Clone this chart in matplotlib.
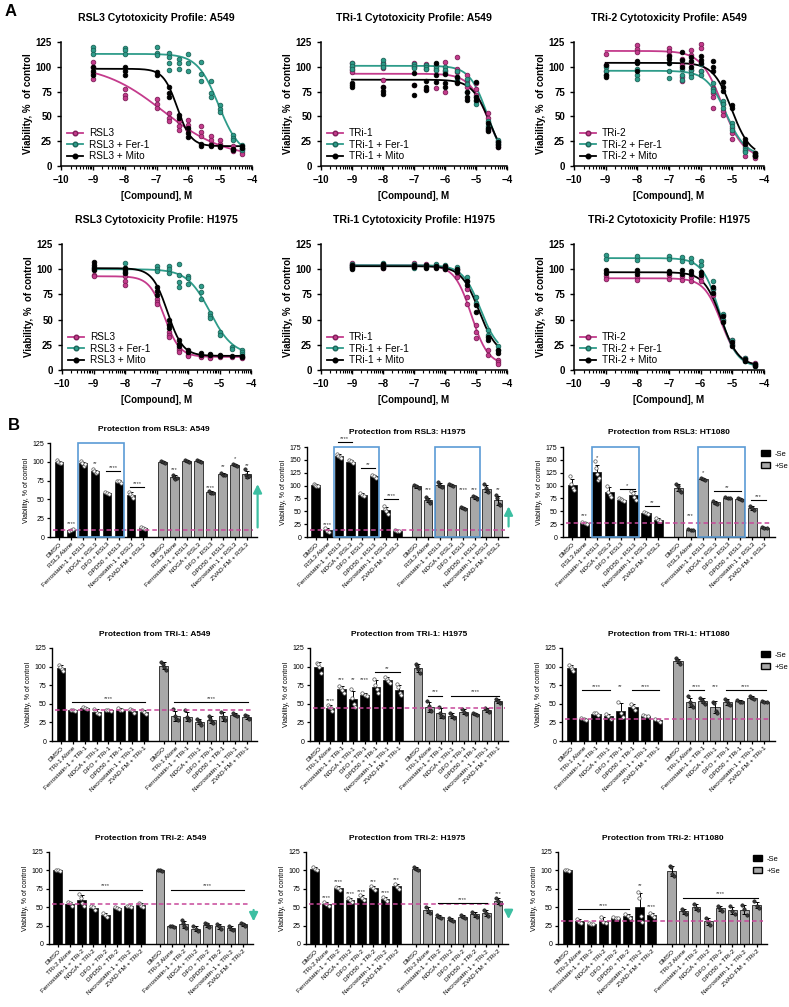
import numpy as np
import matplotlib
matplotlib.use('Agg')
import matplotlib.pyplot as plt
from matplotlib.lines import Line2D
from matplotlib.patches import Rectangle, Patch

plt.rcParams['font.family'] = ['Liberation Sans', 'DejaVu Sans']

W, H = 789, 1007
pink = '#C43B8C'
teal = '#2E9C8A'
pink_edge = '#7E1E58'
teal_edge = '#1B6458'
box_blue = '#5B9BD5'
arrow_teal = '#3DBFA2'
bar_gray = '#A8A8A8'

# ---------------- dose response data (log M) ----------------
conc = [-9, -8, -7, -6.6, -6.3, -6, -5.6, -5.3, -5, -4.6, -4.3]

rsl3_a549 = [[105, 100, 94, 88], [78, 72, 69], [68, 63, 58], [53, 48, 45], [45, 40, 36], [46, 41, 36],
             [40, 34, 30], [30, 26, 22], [26, 22, 20], [20, 17, 15], [17, 14, 12]]
rsl3_a549_fer = [[120, 117, 113], [119, 117, 113], [120, 114, 112], [114, 110, 104, 97], [108, 104, 98],
                 [113, 104, 96], [105, 93, 86], [86, 74, 70], [61, 57, 54], [31, 28, 26], [21, 18, 16]]
rsl3_a549_mito = [[100, 96, 92], [100, 96, 92], [95, 92], [80, 74, 70], [51, 48], [38, 33, 29],
                  [22, 20], [21, 20], [20, 19], [17, 16], [20, 18]]

tri1_a549 = [[104, 100, 97, 95], [104, 99, 87, 80], [104, 100, 82], [103, 98, 78], [102, 97, 79], [105, 96, 75],
             [110, 98, 95], [92, 86, 80], [84, 78, 72], [53, 48, 36], [25, 22, 19]]
tri1_a549_fer = [[104, 101, 98], [107, 103, 100], [103, 101, 99], [102, 100, 98], [101, 99, 97], [100, 97, 94],
                 [96, 90, 87], [88, 83, 75], [70, 66, 63], [45, 40, 37], [26, 24, 22]]
tri1_a549_mito = [[84, 82, 80], [80, 76, 73], [94, 82, 72], [86, 80, 77], [104, 92, 85], [93, 84, 80],
                  [90, 85, 84], [75, 70, 67], [85, 70, 67], [43, 38, 35], [24, 21, 19]]

tri2_a549 = [[113, 102, 96], [122, 118, 115], [119, 116, 112], [108, 102, 90, 86], [117, 112, 104, 97],
             [123, 119, 96], [79, 74, 70, 58], [62, 55, 51], [38, 33, 27], [20, 15, 10], [13, 10, 8]]
tri2_a549_fer = [[100, 96, 92], [98, 92, 88], [104, 96, 89], [98, 92, 87], [97, 93, 90], [103, 96, 92],
                 [84, 78, 76], [66, 62, 58], [43, 40, 36], [18, 16, 14], [13, 11, 10]]
tri2_a549_mito = [[102, 92, 90], [106, 104, 96], [111, 108, 104], [115, 107, 100], [110, 106, 100],
                  [111, 107, 104], [106, 100, 96], [85, 80, 76], [61, 58], [27, 24, 22], [13, 11, 10]]

rsl3_h1975 = [[94, 93], [93, 88, 84], [70, 67, 65], [38, 35, 33], [22, 20, 18], [15, 14], [14, 13],
              [13, 12], [13], [13], [13, 12]]
rsl3_h1975_fer = [[102, 100], [106, 101, 97], [103, 100, 98], [103, 100, 96], [105, 94, 87, 82], [93, 91, 85],
                  [83, 77, 70], [57, 54, 52], [38, 35], [23, 21], [20, 18, 16]]
rsl3_h1975_mito = [[107, 104, 101, 99], [101, 99, 96], [82, 78, 74], [50, 45, 42], [30, 26, 24], [20, 18],
                   [17, 15], [16, 15], [15, 14], [14], [14, 13]]

tri1_h1975 = [[106, 104, 102], [105, 103, 101], [106, 104, 102], [105, 103], [104, 102], [103, 100],
              [100, 96, 92], [80, 72, 65], [45, 38, 32], [20, 15], [10, 8, 6]]
tri1_h1975_fer = [[105, 103, 101], [106, 104, 102], [105, 103, 101], [104, 102], [105, 103], [104, 101],
                  [102, 99], [92, 88], [72, 66], [40, 35], [24, 20]]
tri1_h1975_mito = [[104, 102, 100], [105, 103, 101], [104, 102], [104, 101], [103, 101], [103, 100],
                   [100, 97], [88, 84], [64, 58], [33, 30], [20, 17]]

tri2_h1975 = [[93, 90], [92, 89], [94, 90], [93, 89], [92, 88], [92, 88], [80, 74], [55, 50], [30, 26],
              [12, 10], [7, 5]]
tri2_h1975_fer = [[114, 110], [113, 109], [113, 110], [112, 108], [111, 107], [108, 104], [88, 80],
                  [56, 50], [30, 25], [12, 9], [6, 4]]
tri2_h1975_mito = [[99, 96], [99, 95], [98, 96], [99, 95], [98, 95], [97, 94], [82, 76], [54, 48],
                   [28, 24], [11, 9], [6, 4]]

# four-parameter fits: (top, bottom, logEC50, hill slope)
fit_rsl3_a549 = [(103, 8, -6.8, 0.45), (113, 10, -5.05, 1.3), (98, 20, -6.35, 2.0)]
fit_tri1_a549 = [(93, 0, -4.6, 1.4), (101, 0, -4.62, 1.5), (87, 0, -4.55, 1.5)]
fit_tri2_a549 = [(116, 8, -5.32, 1.3), (96, 10, -5.2, 1.4), (104, 10, -5.02, 1.5)]
fit_rsl3_h1975 = [(93, 13, -6.75, 1.8), (100, 15, -5.3, 1.2), (101, 14, -6.65, 1.8)]
fit_tri1_h1975 = [(104, 5, -5.15, 1.6), (104, 16, -4.85, 1.5), (103, 14, -4.9, 1.5)]
fit_tri2_h1975 = [(91, 4, -5.35, 1.6), (111, 3, -5.4, 1.6), (97, 4, -5.35, 1.6)]

# ---------------- bar chart data ----------------
treatments = ['DMSO', '{} Alone', 'Ferrostatin-1 + {}', 'NDGA + {}', 'DFO + {}', 'DPD50 + {}',
              'Necrostatin-1 + {}', 'ZVAD-FM + {}']

rsl3_a549_m = [[102, 100, 98, 99], [8, 9, 10], [101, 98, 95, 97], [90, 88, 85, 87], [60, 58, 57],
               [75, 74, 72], [60, 57, 54, 52], [13, 12, 10]]
rsl3_a549_p = [[101, 100, 99], [83, 80, 77, 78], [103, 101, 100], [103, 101, 100], [61, 59, 58],
               [85, 83, 82], [97, 96, 95], [90, 82, 80, 81]]
rsl3_h1975_m = [[104, 102, 100, 99], [17, 12, 9], [162, 158, 155, 153], [150, 147, 143], [85, 82, 80],
                [120, 118, 115], [60, 54, 50, 45], [14, 12, 11]]
rsl3_h1975_p = [[102, 99, 96], [78, 73, 70, 67], [106, 102, 100, 98], [103, 101, 99], [59, 57, 55],
                [80, 77, 74], [103, 95, 90, 88], [82, 75, 65, 62]]
rsl3_ht1080_m = [[118, 103, 95, 92], [30, 28, 26], [147, 135, 122, 110, 115], [100, 88, 82, 78],
                 [75, 73, 71, 70], [90, 86, 78, 72], [48, 46, 44], [36, 34, 32]]
rsl3_ht1080_p = [[104, 100, 92, 88], [15, 14, 13], [115, 113, 111], [70, 67, 65], [78, 76, 75],
                 [76, 74, 72], [60, 56, 52], [20, 18, 17]]

tri1_a549_m = [[102, 100, 97, 94], [42, 41, 40], [46, 45, 43], [43, 38, 36], [42, 41, 40], [44, 42, 41],
               [43, 41, 38], [42, 39, 36]]
tri1_a549_p = [[106, 104, 100, 95], [43, 33, 30, 28], [42, 32, 29, 28], [30, 27, 24, 22], [34, 30, 26, 24],
               [39, 32, 28], [37, 35, 33], [35, 33, 30]]
tri1_h1975_m = [[105, 103, 100, 92], [48, 46, 45, 40], [74, 71, 68, 65], [70, 58, 50, 46], [65, 62, 60],
                [84, 75, 70, 64], [86, 84, 80, 78], [76, 72, 65, 62]]
tri1_h1975_p = [[104, 101, 97, 91], [54, 47, 42, 40], [46, 38, 34, 32], [38, 33, 31], [43, 39, 36],
                [37, 36, 35], [45, 42, 39], [57, 54, 51]]
tri1_ht1080_m = [[102, 100, 97, 94], [31, 29, 28], [38, 37, 35], [36, 33, 30], [52, 38, 32], [50, 46, 42],
                 [35, 34, 33], [30, 28, 26]]
tri1_ht1080_p = [[111, 109, 106, 104], [60, 52, 49, 46], [58, 55, 53, 50], [53, 51, 40, 38],
                 [57, 54, 50, 48], [55, 53, 52], [60, 58, 57], [54, 53, 52]]

tri2_a549_m = [[101, 100, 99], [57, 56, 52], [68, 62, 56, 52], [51, 50, 46], [42, 39, 37], [50, 49, 48],
               [52, 51, 50], [56, 55, 51, 50]]
tri2_a549_p = [[101, 100, 99], [25, 24, 23], [33, 28, 24, 22], [24, 21, 18], [29, 27, 25, 23],
               [27, 24, 21], [25, 21, 19], [29, 27, 25]]
tri2_h1975_m = [[104, 102, 100], [57, 55, 52], [78, 76, 73], [62, 60, 57], [66, 63, 60], [79, 76, 73],
                [64, 61, 58], [82, 78, 75]]
tri2_h1975_p = [[104, 102, 100], [50, 45, 42], [40, 37, 35], [35, 33, 31], [39, 37, 35], [44, 40, 37],
                [46, 42, 38], [62, 58, 55]]
tri2_ht1080_m = [[101, 100, 99], [34, 30, 28], [28, 27, 27], [37, 30, 28], [37, 36, 35], [41, 38, 35],
                 [70, 62, 38, 30], [42, 40, 37]]
tri2_ht1080_p = [[106, 104, 95, 92], [48, 44, 41], [54, 49, 46], [36, 30, 26], [52, 48, 45], [51, 45, 41],
                 [53, 47, 40], [58, 52, 49]]

# significance marks: (first bar, last bar, height, stars)
sig_rsl3_a549 = [(1, 1, 15, '****'), (3, 3, 94, '**'), (4, 5, 88, '****'), (6, 7, 66, '****'),
                 (9, 9, 87, '***'), (12, 12, 63, '****'), (13, 13, 90, '**'), (14, 14, 101, '*'),
                 (15, 15, 92, '**')]
sig_rsl3_h1975 = [(1, 1, 20, '****'), (2, 3, 184, '****'), (4, 5, 134, '**'), (6, 7, 73, '****'),
                  (9, 9, 88, '***'), (12, 12, 88, '****'), (13, 13, 88, '***'), (15, 15, 88, '**')]
sig_rsl3_ht1080 = [(1, 1, 36, '***'), (2, 2, 150, '*'), (4, 5, 93, '*'), (6, 7, 60, '**'),
                   (9, 9, 36, '***'), (10, 10, 120, '*'), (11, 13, 90, '**'), (14, 15, 72, '***')]
sig_tri1_a549 = [(1, 7, 52, '****'), (9, 15, 52, '****')]
sig_tri1_h1975 = [(1, 1, 51, '****'), (2, 2, 79, '***'), (3, 3, 79, '**'), (4, 4, 79, '****'),
                  (5, 7, 93, '**'), (9, 10, 61, '***'), (11, 15, 61, '****')]
sig_tri1_ht1080 = [(1, 3, 68, '****'), (4, 4, 70, '**'), (5, 7, 68, '****'), (9, 10, 68, '****'),
                   (11, 11, 70, '***'), (12, 15, 68, '****')]
sig_tri2_a549 = [(1, 7, 74, '****'), (9, 15, 74, '****')]
sig_tri2_h1975 = [(1, 1, 60, '****'), (2, 2, 81, '****'), (3, 3, 65, '****'), (4, 4, 68, '****'),
                  (5, 5, 81, '***'), (6, 6, 66, '****'), (7, 7, 84, '***'), (10, 14, 56, '****'),
                  (15, 15, 65, '***')]
sig_tri2_ht1080 = [(1, 5, 47, '****'), (6, 6, 76, '**'), (7, 7, 47, '****'), (9, 15, 63, '****')]

# protection arrows: (start, end)
arrow_rsl3_a549 = (9, 74)
arrow_rsl3_h1975 = (15, 65)
arrow_tri2_a549 = (50, 27)
arrow_tri2_h1975 = (50, 30)


def add_ax(fig, l, t, r, b):
    return fig.add_axes([l / W, 1 - b / H, (r - l) / W, (b - t) / H])


def hill(x, top, bottom, logec, slope):
    return bottom + (top - bottom) / (1 + 10 ** ((x - logec) * slope))


def dose_panel(ax, title, drug, series, fits):
    cols = [pink, teal, 'black']
    edges = [pink_edge, teal_edge, 'black']
    names = [drug, drug + ' + Fer-1', drug + ' + Mito']
    xs = np.linspace(-9, -4.3, 200)
    for pts, fit, c, e in zip(series, fits, cols, edges):
        ax.plot(xs, hill(xs, *fit), color=c, lw=1.3, zorder=2)
        for x, vals in zip(conc, pts):
            ax.scatter([x] * len(vals), vals, s=11, color=c, edgecolors=e, linewidths=0.6, zorder=3)
    ax.set_xlim(-10, -4)
    ax.set_ylim(0, 125)
    ax.set_xticks(range(-10, -3))
    ax.set_xticks([d + np.log10(k) for d in range(-10, -4) for k in range(2, 10)], minor=True)
    ax.set_yticks(range(0, 126, 25))
    ax.tick_params(labelsize=7, width=1, length=3)
    ax.tick_params(which='minor', length=1.8, width=0.8)
    for lab in ax.get_xticklabels() + ax.get_yticklabels():
        lab.set_fontweight('bold')
    for s in ['top', 'right']:
        ax.spines[s].set_visible(False)
    for s in ['left', 'bottom']:
        ax.spines[s].set_linewidth(1.1)
    ax.set_title(title, fontsize=7.6, fontweight='bold', pad=15)
    ax.set_xlabel('[Compound], M', fontsize=7, fontweight='bold', labelpad=4)
    ax.set_ylabel('Viability, %  of control', fontsize=7, fontweight='bold', labelpad=2)
    handles = [Line2D([0], [0], color=c, lw=1.3, marker='o', markersize=3.3, markeredgecolor=e)
               for c, e in zip(cols, edges)]
    ax.legend(handles, names, loc='lower left', bbox_to_anchor=(0.0, -0.01), frameon=False,
              fontsize=7.2, handlelength=1.6, handletextpad=0.6, labelspacing=0.15, borderaxespad=0.2)


pos = np.r_[np.arange(8), np.arange(8) + 8.64]


def bar_panel(ax, title, drug, minus, plus, ymax, sig, boxes=0, arrow=None, legend=False):
    groups = minus + plus
    means = [np.mean(g) for g in groups]
    sds = [np.std(g, ddof=1) for g in groups]
    colors = ['black'] * 8 + [bar_gray] * 8
    ax.bar(pos, means, width=0.74, color=colors, edgecolor='#222222', linewidth=0.6, zorder=2)
    ax.errorbar(pos, means, yerr=sds, fmt='none', ecolor='black', elinewidth=0.7, capsize=1.6,
                capthick=0.7, zorder=3)
    for i, g in enumerate(groups):
        n = len(g)
        off = np.linspace(-0.18, 0.18, n) if n > 1 else [0]
        if i < 8:
            ax.scatter(pos[i] + off, g, s=6, facecolor='white', edgecolors='#555555',
                       linewidths=0.5, zorder=4)
        else:
            ax.scatter(pos[i] + off, g, s=6, facecolor='#3a3a3a', edgecolors='#111111',
                       linewidths=0.4, zorder=4)
    dash = np.mean(minus[1])
    ax.plot([-0.5, 16.2], [dash, dash], ls=(0, (3, 2)), color='#C8489A', lw=1.1, zorder=5)
    for i0, i1, y, txt in sig:
        if i0 != i1:
            ax.plot([pos[i0] - 0.1, pos[i1] + 0.1], [y, y], color='black', lw=0.8, clip_on=False, zorder=5)
            ax.text((pos[i0] + pos[i1]) / 2, y + ymax * 0.012, txt, ha='center', va='bottom',
                    fontsize=4.2, color='#333333', clip_on=False)
        else:
            ax.text(pos[i0], y, txt, ha='center', va='bottom', fontsize=4.2, color='#333333',
                    clip_on=False)
    for k in range(boxes):
        x0 = 1.6 + k * 8.64
        ax.add_patch(Rectangle((x0, 0), 3.85, ymax, fill=False, edgecolor=box_blue, lw=1.2,
                               zorder=6, clip_on=False))
    if arrow is not None:
        ax.annotate('', xy=(16.55, arrow[1]), xytext=(16.55, arrow[0]), annotation_clip=False,
                    arrowprops=dict(arrowstyle='-|>,head_width=0.25,head_length=0.5',
                                    color=arrow_teal, lw=1.6))
    ax.set_xlim(-0.75, 16.5)
    ax.set_ylim(0, ymax)
    ax.set_yticks(range(0, ymax + 1, 25))
    ax.set_xticks(pos)
    ax.set_xticklabels([t.format(drug) for t in treatments] * 2, rotation=45, ha='right',
                       rotation_mode='anchor', fontsize=4.6)
    ax.tick_params(axis='y', labelsize=5, width=0.9, length=2.5, pad=1.5)
    ax.tick_params(axis='x', width=0.9, length=2.5, pad=1)
    for s in ['top', 'right']:
        ax.spines[s].set_visible(False)
    for s in ['left', 'bottom']:
        ax.spines[s].set_linewidth(1.0)
    ax.set_ylabel('Viability, % of control', fontsize=5, labelpad=2)
    ax.set_title(title, fontsize=6, fontweight='bold', pad=9)
    if legend:
        hs = [Patch(facecolor='black', edgecolor='black'), Patch(facecolor=bar_gray, edgecolor='black')]
        ax.legend(hs, ['-Se', '+Se'], loc='upper left', bbox_to_anchor=(0.9, 1.04), frameon=False,
                  fontsize=5.5, handlelength=1.2, handleheight=0.8, handletextpad=0.6, labelspacing=0.6)


fig = plt.figure(figsize=(W / 100, H / 100), dpi=100)

# ----- panel A -----
dose_panel(add_ax(fig, 61, 42, 252, 166), 'RSL3 Cytotoxicity Profile: A549', 'RSL3',
           [rsl3_a549, rsl3_a549_fer, rsl3_a549_mito], fit_rsl3_a549)
dose_panel(add_ax(fig, 321, 42, 507, 166), 'TRi-1 Cytotoxicity Profile: A549', 'TRi-1',
           [tri1_a549, tri1_a549_fer, tri1_a549_mito], fit_tri1_a549)
dose_panel(add_ax(fig, 574, 42, 764, 166), 'TRi-2 Cytotoxicity Profile: A549', 'TRi-2',
           [tri2_a549, tri2_a549_fer, tri2_a549_mito], fit_tri2_a549)
dose_panel(add_ax(fig, 62, 244, 251, 370), 'RSL3 Cytotoxicity Profile: H1975', 'RSL3',
           [rsl3_h1975, rsl3_h1975_fer, rsl3_h1975_mito], fit_rsl3_h1975)
dose_panel(add_ax(fig, 321, 244, 507, 370), 'TRi-1 Cytotoxicity Profile: H1975', 'TRi-1',
           [tri1_h1975, tri1_h1975_fer, tri1_h1975_mito], fit_tri1_h1975)
dose_panel(add_ax(fig, 574, 244, 764, 370), 'TRi-2 Cytotoxicity Profile: H1975', 'TRi-2',
           [tri2_h1975, tri2_h1975_fer, tri2_h1975_mito], fit_tri2_h1975)

# ----- panel B -----
bar_panel(add_ax(fig, 50, 443, 257, 537), 'Protection from RSL3: A549', 'RSL3',
          rsl3_a549_m, rsl3_a549_p, 125, sig_rsl3_a549, boxes=1, arrow=arrow_rsl3_a549)
bar_panel(add_ax(fig, 307, 447, 508, 537), 'Protection from RSL3: H1975', 'RSL3',
          rsl3_h1975_m, rsl3_h1975_p, 175, sig_rsl3_h1975, boxes=2, arrow=arrow_rsl3_h1975)
bar_panel(add_ax(fig, 563, 447, 775, 537), 'Protection from RSL3: HT1080', 'RSL3',
          rsl3_ht1080_m, rsl3_ht1080_p, 175, sig_rsl3_ht1080, boxes=2, legend=True)

bar_panel(add_ax(fig, 52, 648, 257, 741), 'Protection from TRi-1: A549', 'TRi-1',
          tri1_a549_m, tri1_a549_p, 125, sig_tri1_a549)
bar_panel(add_ax(fig, 310, 648, 508, 741), 'Protection from TRi-1: H1975', 'TRi-1',
          tri1_h1975_m, tri1_h1975_p, 125, sig_tri1_h1975)
bar_panel(add_ax(fig, 562, 648, 775, 741), 'Protection from TRi-1: HT1080', 'TRi-1',
          tri1_ht1080_m, tri1_ht1080_p, 125, sig_tri1_ht1080, legend=True)

bar_panel(add_ax(fig, 49, 852, 253, 944), 'Protection from TRi-2: A549', 'TRi-2',
          tri2_a549_m, tri2_a549_p, 125, sig_tri2_a549, arrow=arrow_tri2_a549)
bar_panel(add_ax(fig, 306, 852, 508, 944), 'Protection from TRi-2: H1975', 'TRi-2',
          tri2_h1975_m, tri2_h1975_p, 125, sig_tri2_h1975, arrow=arrow_tri2_h1975)
bar_panel(add_ax(fig, 558, 852, 767, 944), 'Protection from TRi-2: HT1080', 'TRi-2',
          tri2_ht1080_m, tri2_ht1080_p, 125, sig_tri2_ht1080, legend=True)

fig.text(5 / W, 1 - 12 / H, 'A', fontsize=12, fontweight='bold', va='center', ha='left')
fig.text(8 / W, 1 - 425 / H, 'B', fontsize=12, fontweight='bold', va='center', ha='left')

fig.savefig('out.png', dpi=100)
